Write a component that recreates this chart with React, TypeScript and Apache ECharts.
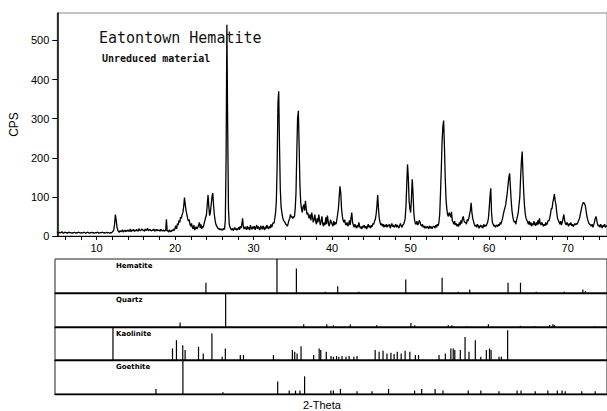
import React, { useEffect, useRef } from "react";
import * as echarts from "echarts";

// ---- axis ticks ----
const xTickValues = [6, 8, 10, 12, 14, 16, 18, 20, 22, 24, 26, 28, 30, 32, 34, 36, 38, 40, 42, 44, 46, 48, 50, 52, 54, 56, 58, 60, 62, 64, 66, 68, 70, 72, 74];
const xLabelValues = [10, 20, 30, 40, 50, 60, 70];
const yLabelValues = [0, 100, 200, 300, 400, 500];

// ---- diffraction scan (2-Theta from 5 in 0.1 deg steps) ----
const scanStart = 5;
const scanStep = 0.1;
const cps = [
  8, 9, 7, 10, 8, 9, 11, 8, 7, 9,
  10, 8, 9, 7, 9, 10, 8, 9, 8, 7,
  9, 8, 10, 8, 7, 9, 8, 10, 9, 8,
  7, 9, 8, 8, 10, 9, 7, 8, 9, 10,
  8, 7, 9, 8, 10, 8, 9, 7, 8, 9,
  8, 10, 9, 7, 8, 9, 8, 10, 9, 8,
  9, 7, 8, 10, 8, 9, 8, 7, 9, 8,
  10, 12, 16, 30, 55, 42, 24, 15, 11, 10,
  14, 11, 12, 16, 10, 13, 15, 11, 14, 12,
  16, 12, 13, 18, 11, 15, 13, 17, 12, 14,
  13, 17, 14, 12, 19, 15, 13, 16, 18, 14,
  15, 12, 18, 14, 16, 20, 13, 15, 17, 14,
  13, 16, 14, 18, 12, 15, 17, 13, 16, 14,
  15, 12, 17, 14, 13, 16, 12, 15, 13, 43,
  12, 14, 10, 16, 12, 11, 15, 13, 18, 14,
  20, 26, 18, 32, 28, 40, 35, 48, 45, 55,
  60, 75, 98, 80, 65, 55, 45, 38, 42, 30,
  25, 32, 22, 18, 28, 15, 20, 24, 18, 22,
  28, 35, 20, 30, 18, 25, 22, 32, 40, 48,
  55, 80, 105, 75, 52, 60, 80, 100, 110, 80,
  55, 40, 30, 25, 22, 18, 20, 16, 18, 15,
  18, 15, 20, 17, 40, 200, 540, 280, 70, 30,
  22, 18, 15, 20, 14, 17, 22, 16, 19, 15,
  18, 22, 16, 25, 20, 30, 45, 22, 18, 24,
  20, 16, 25, 18, 22, 15, 28, 20, 17, 24,
  19, 25, 16, 22, 28, 18, 24, 20, 15, 26,
  22, 17, 26, 20, 15, 24, 19, 28, 21, 18,
  25, 20, 30, 22, 28, 35, 32, 45, 60, 90,
  180, 340, 370, 230, 120, 75, 60, 48, 40, 38,
  35, 30, 28, 25, 32, 40, 45, 55, 48, 50,
  45, 50, 48, 70, 110, 210, 300, 320, 230, 130,
  85, 70, 60, 75, 80, 65, 90, 70, 55, 60,
  50, 45, 55, 40, 60, 48, 35, 42, 55, 38,
  30, 45, 35, 55, 40, 28, 38, 50, 32, 25,
  35, 28, 48, 30, 52, 38, 25, 30, 42, 35,
  30, 25, 38, 28, 35, 30, 42, 55, 70, 100,
  127, 110, 70, 50, 40, 35, 42, 30, 28, 35,
  25, 30, 40, 28, 45, 60, 35, 28, 22, 30,
  25, 20, 28, 22, 35, 25, 20, 24, 18, 26,
  22, 28, 20, 25, 18, 24, 30, 22, 26, 20,
  28, 24, 32, 30, 38, 42, 55, 75, 105, 70,
  45, 35, 28, 32, 25, 30, 22, 28, 24, 30,
  22, 28, 25, 30, 20, 26, 32, 24, 28, 22,
  25, 30, 22, 28, 24, 20, 27, 32, 25, 22,
  28, 30, 35, 45, 75, 130, 183, 150, 90, 70,
  60, 95, 145, 110, 60, 40, 32, 30, 38, 28,
  32, 40, 35, 28, 25, 30, 22, 26, 20, 24,
  20, 25, 22, 18, 26, 20, 24, 19, 22, 25,
  24, 20, 28, 22, 30, 26, 35, 55, 110, 170,
  240, 280, 295, 230, 150, 95, 70, 55, 50, 60,
  55, 48, 62, 40, 35, 30, 38, 28, 32, 25,
  30, 24, 35, 28, 40, 32, 45, 50, 38, 35,
  35, 30, 42, 38, 45, 55, 65, 85, 60, 45,
  38, 30, 25, 28, 22, 30, 26, 20, 24, 28,
  22, 26, 20, 30, 24, 28, 25, 30, 35, 45,
  70, 100, 122, 60, 35, 30, 25, 28, 22, 26,
  28, 24, 30, 26, 35, 30, 38, 45, 55, 65,
  72, 80, 95, 110, 130, 150, 160, 125, 90, 65,
  50, 40, 35, 38, 30, 42, 50, 60, 80, 100,
  150, 190, 216, 160, 110, 75, 55, 45, 40, 35,
  30, 38, 28, 35, 25, 32, 28, 38, 30, 26,
  35, 28, 40, 30, 45, 32, 28, 35, 30, 25,
  30, 26, 35, 28, 32, 40, 38, 45, 55, 70,
  70, 85, 95, 107, 90, 80, 60, 45, 40, 35,
  30, 38, 28, 35, 45, 55, 40, 32, 28, 35,
  30, 25, 32, 28, 35, 26, 30, 24, 28, 32,
  28, 32, 30, 35, 40, 45, 55, 65, 75, 82,
  86, 84, 80, 70, 55, 45, 38, 32, 30, 28,
  25, 30, 22, 28, 35, 45, 50, 40, 30, 25,
  28, 22, 30, 25, 20, 28, 24, 30, 22, 26,
  24,
];

// ---- reference stick patterns: [2-Theta, relative intensity %] ----
const phaseNames = ["Hematite", "Quartz", "Kaolinite", "Goethite"];
const hematiteSticks = [
  [24.14, 30], [33.15, 100], [35.61, 72], [39.28, 4], [40.85, 20], [43.52, 4],
  [49.48, 40], [54.09, 45], [56.15, 4], [57.59, 10], [62.45, 30], [64.03, 30],
  [66.03, 4], [69.6, 4], [71.94, 10], [72.26, 6],
];
const quartzSticks = [
  [20.86, 13], [26.64, 100], [36.54, 8], [39.46, 8], [40.29, 5], [42.45, 7],
  [45.79, 5], [50.14, 12], [50.62, 5], [54.87, 5], [55.33, 5], [57.24, 3],
  [59.96, 8], [64.0, 4], [65.79, 3], [67.74, 6], [68.14, 8], [68.32, 6], [73.47, 3],
];
const kaoliniteSticks = [
  [12.35, 100], [19.9, 35], [20.4, 60], [21.2, 45], [21.5, 30], [23.2, 40],
  [23.8, 20], [24.9, 80], [26.2, 10], [26.6, 35], [28.5, 15], [28.9, 15],
  [32.7, 15], [35.1, 30], [35.4, 25], [35.7, 20], [36.2, 42], [37.8, 15],
  [38.5, 35], [38.7, 30], [39.4, 25], [40.0, 12], [40.3, 10], [40.7, 12],
  [41.0, 10], [41.4, 12], [41.9, 10], [42.3, 12], [42.9, 10], [43.3, 12],
  [45.6, 30], [46.1, 25], [46.6, 28], [47.1, 20], [47.6, 22], [48.0, 18],
  [48.4, 25], [48.9, 20], [49.4, 28], [50.0, 25], [50.7, 15], [51.1, 15],
  [53.7, 15], [54.5, 20], [55.2, 35], [55.5, 35], [55.7, 30], [56.4, 30],
  [57.0, 70], [57.5, 25], [58.3, 60], [59.0, 10], [59.7, 30], [60.1, 35],
  [60.3, 30], [61.3, 10], [61.6, 10], [62.4, 90],
];
const goethiteSticks = [
  [17.8, 15], [21.22, 100], [26.3, 5], [33.24, 37], [34.7, 10], [35.5, 10],
  [36.06, 10], [36.65, 52], [39.98, 10], [40.3, 10], [41.2, 15], [43.3, 8],
  [45.2, 8], [47.3, 15], [50.6, 10], [51.5, 15], [53.2, 15], [54.2, 10],
  [57.4, 10], [59.0, 10], [61.3, 8], [63.6, 10], [64.1, 10], [65.9, 8],
  [67.5, 10], [68.7, 10], [69.3, 10], [69.7, 8], [71.8, 8], [73.5, 8],
];
const phaseSticks = [hematiteSticks, quartzSticks, kaoliniteSticks, goethiteSticks];

const panelTops = [259, 293, 327, 360];
const panelHeights = [34, 34, 33, 34];

export default function App() {
  const ref = useRef<HTMLDivElement>(null);

  useEffect(() => {
    if (!ref.current) return;
    const chart = echarts.init(ref.current, null, { renderer: "svg" });

    const trace = cps.map((v, i) => [+(scanStart + i * scanStep).toFixed(2), v]);

    const grids: any[] = [
      { left: 55, right: -1, top: 13, height: 223, show: true, borderColor: "#888", borderWidth: 1 },
    ];
    const xAxes: any[] = [
      {
        type: "value", gridIndex: 0, min: 5, max: 75,
        axisLine: { show: true, lineStyle: { color: "#000", width: 1.2 } },
        axisTick: { show: true, length: 4, customValues: xTickValues, lineStyle: { color: "#000" } },
        axisLabel: { customValues: xLabelValues, color: "#000", fontSize: 11, margin: 6, fontFamily: "Liberation Sans, Arial, sans-serif" },
        splitLine: { show: false },
      },
    ];
    const yAxes: any[] = [
      {
        type: "value", gridIndex: 0, min: 0, max: 570,
        name: "CPS", nameLocation: "middle", nameGap: 31, nameRotate: 90,
        nameTextStyle: { color: "#000", fontSize: 12, fontFamily: "Liberation Sans, Arial, sans-serif" },
        axisLine: { show: true, lineStyle: { color: "#000", width: 1.5 } },
        axisTick: { show: true, length: 5, customValues: yLabelValues, lineStyle: { color: "#000" } },
        axisLabel: { customValues: yLabelValues, color: "#000", fontSize: 11, margin: 8, fontFamily: "Liberation Sans, Arial, sans-serif" },
        splitLine: { show: false },
      },
    ];
    const series: any[] = [
      {
        type: "line", xAxisIndex: 0, yAxisIndex: 0, data: trace, showSymbol: false,
        lineStyle: { color: "#000", width: 1.3 }, silent: true,
      },
    ];

    phaseSticks.forEach((sticks, k) => {
      const gi = k + 1;
      grids.push({
        left: 55, right: -2, top: panelTops[k], height: panelHeights[k],
        show: true, borderColor: "#222", borderWidth: 1,
      });
      xAxes.push({
        type: "value", gridIndex: gi, min: 5, max: 75,
        axisLine: { show: true, lineStyle: { color: "#000", width: 1.3 } },
        axisTick: { show: false }, axisLabel: { show: false }, splitLine: { show: false },
      });
      yAxes.push({
        type: "value", gridIndex: gi, min: 0, max: 100,
        axisLine: { show: false }, axisTick: { show: false }, axisLabel: { show: false }, splitLine: { show: false },
      });
      series.push({
        type: "bar", xAxisIndex: gi, yAxisIndex: gi, data: sticks, barWidth: 1.2,
        itemStyle: { color: "#000" }, silent: true,
      });
    });

    const labelFont = "DejaVu Sans, Liberation Sans, sans-serif";
    const titles: any[] = [
      { text: "Eatontown Hematite", left: 99, top: 30, textStyle: { fontFamily: "DejaVu Sans Mono, monospace", fontSize: 15, fontWeight: "normal", color: "#111" } },
      { text: "Unreduced material", left: 102, top: 53, textStyle: { fontFamily: "DejaVu Sans Mono, monospace", fontSize: 10, fontWeight: "bold", color: "#111" } },
      { text: "2-Theta", left: 303, top: 399, textStyle: { fontFamily: "Liberation Sans, Arial, sans-serif", fontSize: 11, fontWeight: "normal", color: "#000" } },
    ];
    phaseNames.forEach((n, k) => {
      titles.push({
        text: n, left: 116, top: panelTops[k] + 3,
        textStyle: { fontFamily: labelFont, fontSize: 7, fontWeight: "bold", color: "#000" },
      });
    });

    chart.setOption({
      animation: false,
      backgroundColor: "#fff",
      title: titles.map((t) => ({ ...t, padding: 0 })),
      grid: grids,
      xAxis: xAxes,
      yAxis: yAxes,
      series,
    });

    return () => chart.dispose();
  }, []);

  return (
    <div
      ref={ref}
      style={{ position: "fixed", left: 0, top: 0, width: 607, height: 411, background: "#fff" }}
    />
  );
}
